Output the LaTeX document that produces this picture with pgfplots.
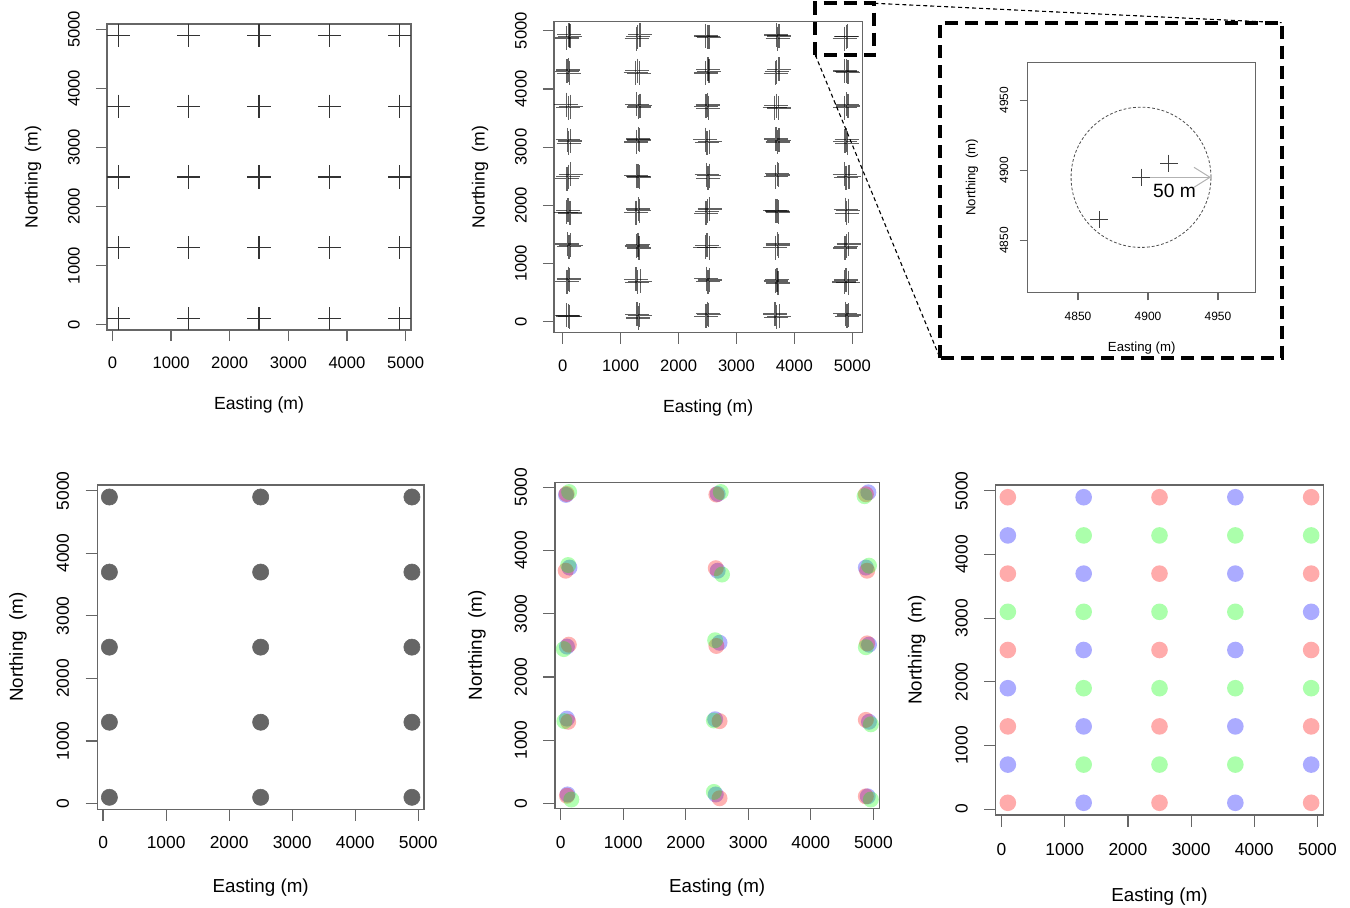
\documentclass[border=0pt]{standalone}
\usepackage{fontspec}
\setmainfont{Liberation Sans}
\usepackage{pgfplots}
\pgfplotsset{compat=1.18}
\usetikzlibrary{arrows.meta}
\definecolor{axgray}{HTML}{666666}
\definecolor{ptgray}{HTML}{666666}
\pgfplotsset{
  rplot/.style={
    scale only axis, anchor=south west,
    axis line style={draw=axgray, line width=0.6pt},
    every tick/.style={draw=axgray, line width=0.6pt},
    tick align=outside, tick pos=left,
    major tick length=5.6pt,
    xtick={0,1000,...,5000}, ytick={0,1000,...,5000},
    /pgf/number format/assume math mode=true,
    /pgf/number format/1000 sep={},
    xlabel={Easting (m)}, ylabel={Northing~~(m)},
  },
  toprow/.style={
    tick label style={font=\fontsize{8.3}{10}\selectfont},
    label style={font=\fontsize{8.8}{10}\selectfont},
  },
  botrow/.style={
    tick label style={font=\fontsize{8.7}{10}\selectfont},
    label style={font=\fontsize{9.4}{11}\selectfont},
  },
  tcirc/.style={only marks, mark=*, mark size=#1},
}
\begin{document}
\begin{tikzpicture}
\useasboundingbox (0,0) rectangle (675pt,453.5pt);

% ---------- Panel 1 ----------
\begin{axis}[rplot, toprow, at={(53.5pt,288.5pt)}, width=152pt, height=153pt,
  xmin=-92, xmax=5092, ymin=-92, ymax=5092,
  xticklabel style={anchor=center, yshift=-10.6pt},
  yticklabel style={anchor=center, xshift=-11pt, rotate=90},
  xlabel style={at={(axis description cs:0.5,-0.245)}, anchor=center},
  ylabel style={at={(axis description cs:-0.243,0.5)}, anchor=center},
]
\addplot[only marks, mark=+, mark size=5.8pt, mark options={line width=0.55pt, draw=black!80}] coordinates {
(100,100) (1300,100) (2500,100) (3700,100) (4900,100)
(100,1300) (1300,1300) (2500,1300) (3700,1300) (4900,1300)
(100,2500) (1300,2500) (2500,2500) (3700,2500) (4900,2500)
(100,3700) (1300,3700) (2500,3700) (3700,3700) (4900,3700)
(100,4900) (1300,4900) (2500,4900) (3700,4900) (4900,4900)
};
\end{axis}

% ---------- Panel 2 ----------
\begin{axis}[rplot, toprow, at={(277pt,287.35pt)}, width=154.15pt, height=155.3pt,
  xmin=-150, xmax=5172, ymin=-182, ymax=5155,
  xticklabel style={anchor=center, yshift=-10.9pt},
  yticklabel style={anchor=center, xshift=-11pt, rotate=90},
  xlabel style={at={(axis description cs:0.5,-0.2437)}, anchor=center},
  ylabel style={at={(axis description cs:-0.240,0.5)}, anchor=center},
]
\addplot[only marks, mark=+, mark size=6pt, mark options={line width=0.65pt, draw=black, draw opacity=0.62}] table {
x y
100 100
120 85
70 110
115 720
75 690
105 740
110 1290
80 1335
135 1315
125 1870
90 1915
60 1880
95 2495
135 2535
75 2460
85 3125
130 3105
105 3065
95 3675
140 3695
65 3730
75 4300
115 4265
100 4325
110 4930
70 4875
125 4905
1285 125
1330 110
1305 65
1290 675
1340 695
1265 730
1275 1300
1315 1265
1300 1325
1305 1935
1265 1875
1325 1905
1300 2500
1325 2485
1270 2510
1320 3120
1270 3090
1305 3140
1310 3690
1280 3735
1335 3715
1325 4270
1290 4315
1260 4280
1295 4895
1335 4930
1275 4865
2520 120
2475 90
2505 140
2510 690
2480 740
2535 715
2530 1270
2490 1315
2460 1280
2495 1895
2535 1935
2475 1865
2485 2525
2530 2510
2510 2465
2490 3075
2540 3095
2465 3130
2475 3700
2515 3665
2500 3725
2510 4335
2470 4275
2525 4305
2500 4900
2525 4885
2470 4910
3690 75
3740 95
3665 130
3675 700
3715 665
3700 725
3710 1335
3670 1275
3725 1305
3700 1900
3725 1885
3670 1910
3720 2520
3675 2490
3705 2545
3710 3090
3680 3140
3735 3115
3730 3670
3690 3715
3660 3680
3695 4295
3735 4335
3675 4265
3685 4925
3735 4910
3710 4865
4910 90
4880 140
4935 115
4930 670
4890 715
4860 680
4895 1295
4935 1335
4875 1265
4885 1925
4930 1910
4905 1865
4890 2475
4940 2495
4865 2530
4875 3100
4915 3065
4900 3125
4905 3735
4870 3675
4925 3705
4900 4300
4925 4285
4870 4310
4895 4895
4915 4905
4865 4865
};
\end{axis}

% ---------- Inset ----------
\begin{axis}[rplot, at={(513.85pt,307.35pt)}, width=114pt, height=115pt,
  xmin=4814, xmax=4977, ymin=4813, ymax=4977,
  xtick={4850,4900,4950}, ytick={4850,4900,4950},
  major tick length=4pt,
  tick label style={font=\fontsize{6}{7}\selectfont},
  label style={font=\fontsize{6.6}{8}\selectfont},
  xticklabel style={anchor=center, yshift=-7.85pt},
  yticklabel style={anchor=center, xshift=-7.85pt, rotate=90},
  xlabel style={at={(axis description cs:0.5,-0.242)}, anchor=center},
  ylabel style={at={(axis description cs:-0.244,0.5)}, anchor=center},
]
\draw[black!70, line width=0.4pt, dash pattern=on 1.4pt off 1pt] (axis cs:4895,4895) circle[radius=50];
\draw[black!30, line width=0.5pt, -{Straight Barb[length=8pt, width=10pt]}] (axis cs:4895,4895) -- (axis cs:4945,4895);
\addplot[only marks, mark=+, mark size=4.3pt, mark options={line width=0.5pt, draw=black!75}] coordinates {
(4895,4895) (4915,4905) (4865,4865)
};
\node[font=\fontsize{9.6}{11}\selectfont, inner sep=0pt] at (axis cs:4919,4885.5) {50 m};
\end{axis}

% ---------- Panel 4 ----------
\begin{axis}[rplot, botrow, at={(48.65pt,48.85pt)}, width=163.35pt, height=162.15pt,
  xmin=-92, xmax=5092, ymin=-92, ymax=5092, major tick length=5.8pt,
  xticklabel style={anchor=center, yshift=-11.05pt},
  yticklabel style={anchor=center, xshift=-11.35pt, rotate=90},
  xlabel style={at={(axis description cs:0.5,-0.243)}, anchor=center},
  ylabel style={at={(axis description cs:-0.243,0.5)}, anchor=center},
]
\addplot[only marks, mark=*, mark size=4.05pt, mark options={draw=ptgray, fill=ptgray, line width=0.3pt}] coordinates {
(100,100) (2500,100) (4900,100)
(100,1300) (2500,1300) (4900,1300)
(100,2500) (2500,2500) (4900,2500)
(100,3700) (2500,3700) (4900,3700)
(100,4900) (2500,4900) (4900,4900)
};
\end{axis}

% ---------- Panel 5 ----------
\begin{axis}[rplot, botrow, at={(277.5pt,49.35pt)}, width=162.15pt, height=163pt,
  xmin=-91, xmax=5095, ymin=-79, ymax=5079, major tick length=5.8pt,
  xticklabel style={anchor=center, yshift=-11.55pt},
  yticklabel style={anchor=center, xshift=-11.2pt, rotate=90},
  xlabel style={at={(axis description cs:0.5,-0.2445)}, anchor=center},
  ylabel style={at={(axis description cs:-0.2405,0.5)}, anchor=center},
]
\addplot[tcirc=4pt, mark options={draw=blue, draw opacity=0, fill=blue, fill opacity=0.3}] coordinates {
(85,4880) (2510,4895) (4920,4920) (140,3730) (2510,3680) (4880,3730) (100,2480) (2540,2540) (4930,2510) (100,1340) (2470,1330) (4930,1290) (110,140) (2480,140) (4910,110)
};
\addplot[tcirc=4pt, mark options={draw=red, draw opacity=0, fill=red, fill opacity=0.3}] coordinates {
(95,4895) (2490,4885) (4880,4890) (80,3680) (2480,3720) (4900,3680) (130,2510) (2490,2490) (4900,2530) (120,1290) (2540,1300) (4880,1320) (100,120) (2540,80) (4880,110)
};
\addplot[tcirc=4pt, mark options={draw=green, draw opacity=0, fill=green, fill opacity=0.3}] coordinates {
(135,4925) (2560,4925) (4860,4860) (120,3770) (2580,3620) (4930,3760) (50,2440) (2470,2580) (4880,2470) (60,1300) (2450,1310) (4960,1250) (170,60) (2450,180) (4960,60)
};
\end{axis}

% ---------- Panel 6 ----------
\begin{axis}[rplot, botrow, at={(497.85pt,46pt)}, width=163.8pt, height=165pt,
  xmin=-92, xmax=5092, ymin=-92, ymax=5092, major tick length=5.8pt,
  xticklabel style={anchor=center, yshift=-11.7pt},
  yticklabel style={anchor=center, xshift=-11.2pt, rotate=90},
  xlabel style={at={(axis description cs:0.5,-0.2476)}, anchor=center},
  ylabel style={at={(axis description cs:-0.241,0.5)}, anchor=center},
]
\addplot[tcirc=4.15pt, mark options={draw=red, draw opacity=0, fill=red, fill opacity=0.33}] coordinates {
(100,4900) (2500,4900) (4900,4900)
(100,3700) (2500,3700) (4900,3700)
(100,2500) (2500,2500) (4900,2500)
(100,1300) (2500,1300) (4900,1300)
(100,100) (2500,100) (4900,100)
};
\addplot[tcirc=4.15pt, mark options={draw=blue, draw opacity=0, fill=blue, fill opacity=0.33}] coordinates {
(1300,4900) (3700,4900) (100,4300) (1300,3700) (3700,3700) (4900,3100)
(1300,2500) (3700,2500) (100,1900) (1300,1300) (3700,1300) (100,700) (4900,700)
(1300,100) (3700,100)
};
\addplot[tcirc=4.15pt, mark options={draw=green, draw opacity=0, fill=green, fill opacity=0.33}] coordinates {
(1300,4300) (2500,4300) (3700,4300) (4900,4300)
(100,3100) (1300,3100) (2500,3100) (3700,3100)
(1300,1900) (2500,1900) (3700,1900) (4900,1900)
(1300,700) (2500,700) (3700,700)
};
\end{axis}

% ---------- zoom annotation ----------
\draw[black, line width=2pt, dash pattern=on 6.5pt off 3.5pt] (407.65pt,426pt) rectangle (437.15pt,451.85pt);
\draw[black, line width=2pt, dash pattern=on 6.5pt off 3.5pt] (470pt,274.5pt) rectangle (640.85pt,442.15pt);
\draw[black, line width=0.55pt, dash pattern=on 2pt off 1.5pt] (437.15pt,451.85pt) -- (640.85pt,442.15pt);
\draw[black, line width=0.55pt, dash pattern=on 2pt off 1.5pt] (407.65pt,426pt) -- (470pt,274.5pt);
\end{tikzpicture}
\end{document}
